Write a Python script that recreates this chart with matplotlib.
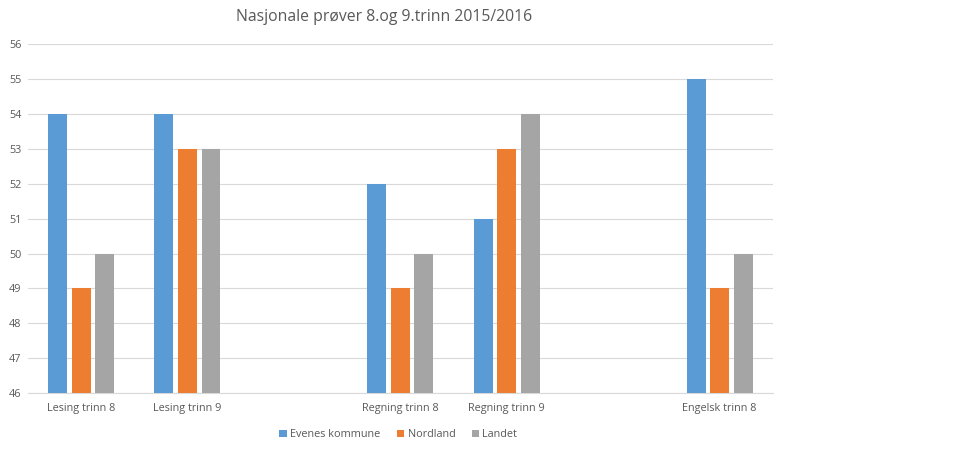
import numpy as np
import matplotlib.pyplot as plt

plt.rcParams['font.family'] = ['Open Sans', 'DejaVu Sans']

# categories (blank slots are the empty gaps in the original chart)
categories = ['Lesing trinn 8', 'Lesing trinn 9', '', 'Regning trinn 8',
              'Regning trinn 9', '', 'Engelsk trinn 8']
evenes = [54, 54, np.nan, 52, 51, np.nan, 55]
nordland = [49, 53, np.nan, 49, 53, np.nan, 49]
landet = [50, 53, np.nan, 50, 54, np.nan, 50]

series = [('Evenes kommune', evenes, '#5B9BD5'),
          ('Nordland', nordland, '#ED7D31'),
          ('Landet', landet, '#A5A5A5')]

fig = plt.figure(figsize=(9.6, 4.54), dpi=100)
ax = fig.add_axes([0.029, 0.134, 0.776, 0.769])

x = np.arange(len(categories))
width = 0.178
step = 0.221
for i, (name, vals, col) in enumerate(series):
    v = np.array(vals, dtype=float)
    ax.bar(x + (i - 1) * step, v - 46, bottom=46, width=width, color=col, label=name, zorder=3)

ax.set_xlim(-0.5, len(categories) - 0.5)
ax.set_ylim(46, 56)
ax.set_yticks(range(46, 57))
ax.set_xticks(x)
ax.set_xticklabels(categories)
ax.tick_params(axis='both', length=0, labelsize=7.8, colors='#595959')
ax.tick_params(axis='y', pad=4.5)
ax.tick_params(axis='x', pad=7)
ax.grid(axis='y', color='#D9D9D9', linewidth=0.8, zorder=0)
for s in ['top', 'right', 'left']:
    ax.spines[s].set_visible(False)
ax.spines['bottom'].set_color('#D9D9D9')
ax.spines['bottom'].set_linewidth(0.8)

fig.text(0.40, 0.962, 'Nasjonale prøver 8.og 9.trinn 2015/2016', ha='center', va='center',
         fontsize=11.3, color='#595959')

fig.legend(loc='center', bbox_to_anchor=(0.415, 0.042), ncol=3, frameon=False,
           fontsize=7.8, handlelength=0.7, handleheight=0.7, handletextpad=0.3,
           columnspacing=1.5, labelcolor='#595959')

fig.savefig('out.png', dpi=100)
